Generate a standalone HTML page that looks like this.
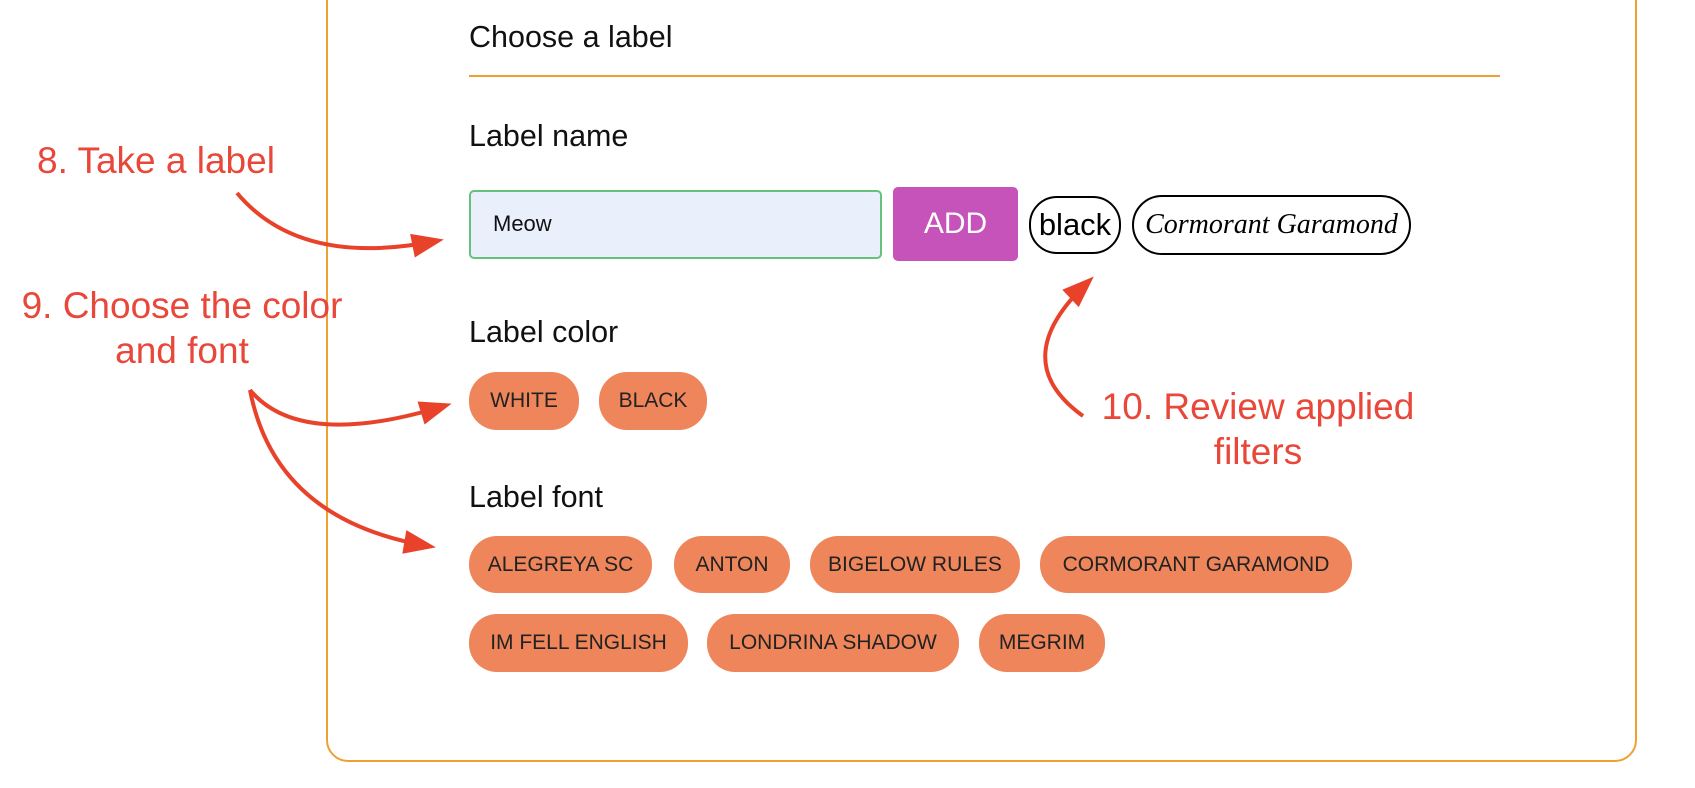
<!DOCTYPE html>
<html><head><meta charset="utf-8"><style>
body{margin:0;width:1695px;height:788px;background:#fff;position:relative;overflow:hidden;font-family:"Liberation Sans",sans-serif}
.a{position:absolute}
.box{left:326px;top:-40px;width:1307px;height:798px;border:2px solid #f0a030;border-radius:22px}
.h{color:#111;font-size:30.5px}
.pill{position:absolute;background:#ef855a;border-radius:28px;color:#222;font-size:21px;display:flex;align-items:center;justify-content:center}
.ann{position:absolute;color:#e8473a;font-size:37px;text-align:center;line-height:45px}
</style></head><body>
<div class="a box"></div>
<div class="a h" style="left:469px;top:20px">Choose a label</div>
<div class="a" style="left:469px;top:75px;width:1031px;height:2px;background:#f0a030"></div>
<div class="a h" style="left:469px;top:119px">Label name</div>
<div class="a" style="left:469px;top:190px;width:409px;height:65px;background:#e9f0fc;border:2px solid #66c27a;border-radius:5px"></div>
<div class="a" style="left:493px;top:211px;font-size:22px;color:#111">Meow</div>
<div class="a" style="left:893px;top:187px;width:125px;height:74px;background:#c653b9;border-radius:5px;color:#fff;font-size:30px;display:flex;align-items:center;justify-content:center">ADD</div>
<div class="a" style="left:1029px;top:196px;width:88px;height:54px;border:2px solid #000;border-radius:28px;font-size:31px;display:flex;align-items:center;justify-content:center">black</div>
<div class="a" style="left:1132px;top:195px;width:275px;height:56px;border:2px solid #000;border-radius:30px;font-size:28px;font-style:italic;font-family:'Liberation Serif',serif;display:flex;align-items:center;justify-content:center">Cormorant Garamond</div>
<div class="a h" style="left:469px;top:315px">Label color</div>
<div class="pill" style="left:469px;top:372px;width:110px;height:58px">WHITE</div>
<div class="pill" style="left:599px;top:372px;width:108px;height:58px">BLACK</div>
<div class="a h" style="left:469px;top:480px">Label font</div>
<div class="pill" style="left:469px;top:536px;width:183px;height:57px">ALEGREYA SC</div>
<div class="pill" style="left:674px;top:536px;width:116px;height:57px">ANTON</div>
<div class="pill" style="left:810px;top:536px;width:210px;height:57px">BIGELOW RULES</div>
<div class="pill" style="left:1040px;top:536px;width:312px;height:57px">CORMORANT GARAMOND</div>
<div class="pill" style="left:469px;top:614px;width:219px;height:58px">IM FELL ENGLISH</div>
<div class="pill" style="left:707px;top:614px;width:252px;height:58px">LONDRINA SHADOW</div>
<div class="pill" style="left:979px;top:614px;width:126px;height:58px">MEGRIM</div>
<div class="ann" style="left:37px;top:138px">8. Take a label</div>
<div class="ann" style="left:-3px;top:283px;width:370px">9. Choose the color<br>and font</div>
<div class="ann" style="left:1088px;top:384px;width:340px">10. Review applied<br>filters</div>
<svg class="a" style="left:0;top:0" width="1695" height="788">
<defs><marker id="m" markerWidth="8" markerHeight="8" refX="0" refY="0" orient="auto" markerUnits="userSpaceOnUse" viewBox="0 0 8 8" style="overflow:visible"><path d="M-24,-12 L8,0 L-24,12Z" fill="#e8432a"/></marker></defs>
<g fill="none" stroke="#e8432a" stroke-width="4">
<path d="M237,193 Q300,268 436,241" marker-end="url(#m)"/>
<path d="M250,390 Q300,450 444,406" marker-end="url(#m)"/>
<path d="M250,390 Q275,520 428,546" marker-end="url(#m)"/>
<path d="M1083,416 Q1005,360 1088,282" marker-end="url(#m)"/>
</g></svg>
</body></html>
